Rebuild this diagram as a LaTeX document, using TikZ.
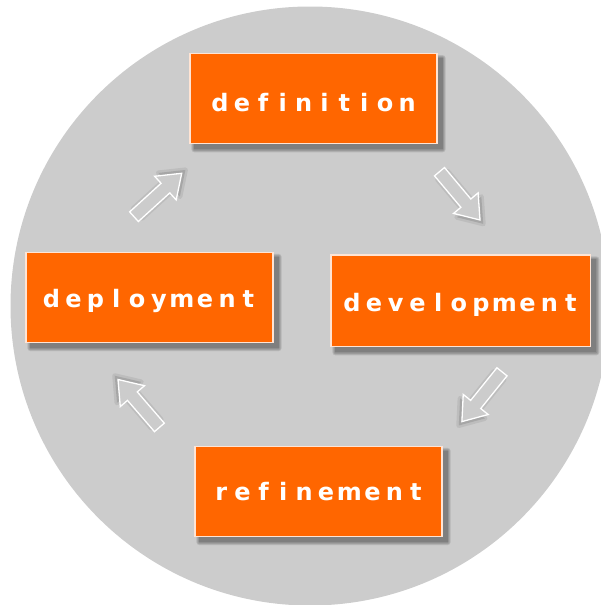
\documentclass[tikz,border=0pt]{standalone}
\usepackage{fontspec}
\usetikzlibrary{calc,backgrounds}
\newfontfamily\boxfont{DejaVu Sans}
\definecolor{discgray}{RGB}{204,204,204}
\definecolor{stageorange}{RGB}{255,102,0}
\definecolor{stageedge}{RGB}{255,228,212}

% wide, nearly even letter pitch: each glyph centred in its own box
\newcommand\lspcword[1]{\lspcstep#1\relax}
\def\lspcstep#1{\ifx\relax#1\else\setbox0=\hbox{#1}\hbox to \dimexpr0.3\wd0+17pt\relax{\hss\box0\hss}\expandafter\lspcstep\fi}

% soft drop shadow behind a stage box
\newcommand\stageshadow[1]{%
  \foreach \d in {0,1,2,3}{
    \fill[black, opacity=0.11, rounded corners=\d pt]
      ($(#1.north west)+(5-\d,5-\d)$) rectangle ($(#1.south east)+(5+\d,5+\d)$);
  }%
}

% hollow block arrow from tail #2 to tip #3, path options #1
\newcommand\arrowshape[3]{%
  \coordinate (fa-m) at ($(#3)!22pt!(#2)$);
  \path[#1] ($(#2)!6.5pt!90:(#3)$) -- ($(fa-m)!6.5pt!90:(#3)$) -- ($(fa-m)!16pt!90:(#3)$)
    -- (#3) -- ($(fa-m)!16pt!-90:(#3)$) -- ($(fa-m)!6.5pt!-90:(#3)$)
    -- ($(#2)!6.5pt!-90:(#3)$) -- cycle;%
}
\newcommand\flowarrow[2]{%
  \coordinate (fa-s) at ($(#1)!5pt!(#2)$);
  \coordinate (fa-e) at ($(#2)!-5pt!(#1)$);
  \arrowshape{fill=black, fill opacity=0.12, draw=black, draw opacity=0.07, line width=5pt, line join=round}{fa-s}{fa-e}
  \arrowshape{fill=discgray, draw=white, line width=1.3pt, line join=miter}{#1}{#2}
}

\begin{document}
\begin{tikzpicture}[x=1pt, y=-1pt,
  stagebox/.style={draw=stageedge, line width=1.2pt, fill=stageorange,
    minimum width=247pt, minimum height=90pt, inner sep=0pt},
  stagetext/.style={anchor=base, inner sep=0pt, text=white,
    font=\boxfont\bfseries\fontsize{24}{24}\selectfont}]
\useasboundingbox (0,0) rectangle (601,605);
\clip (0,0) rectangle (601,605);

% stage boxes
\node[stagebox] (definition) at (313.5,98.7) {};
\node[stagebox, minimum width=259.7pt, minimum height=91.7pt] (development) at (460.9,300.9) {};
\node[stagebox] (deployment) at (149.5,297.5) {};
\node[stagebox] (refinement) at (318.5,491.5) {};

\begin{scope}[on background layer]
  % grey disc
  \fill[discgray] (310,306) circle[radius=299.5];
  \stageshadow{definition}
  \stageshadow{development}
  \stageshadow{deployment}
  \stageshadow{refinement}
\end{scope}

% labels
\node[stagetext] (definition-t) at (313.5,111.7) {\lspcword{definition}};
\node[stagetext] (development-t) at (460.9,311.7) {\lspcword{development}};
\node[stagetext] (deployment-t) at (149.5,307.5) {\lspcword{deployment}};
\node[stagetext] (refinement-t) at (318.5,500.2) {\lspcword{refinement}};

% cycle arrows
\coordinate (a1t) at (134,216.7);   \coordinate (a1h) at (181.7,173.3);
\coordinate (a2t) at (439.5,171.7); \coordinate (a2h) at (480,220);
\coordinate (a3t) at (502,371.8);   \coordinate (a3h) at (461.9,421.6);
\coordinate (a4t) at (159.4,427.4); \coordinate (a4h) at (118,379.5);
\flowarrow{a1t}{a1h}
\flowarrow{a2t}{a2h}
\flowarrow{a3t}{a3h}
\flowarrow{a4t}{a4h}
\end{tikzpicture}
\end{document}
